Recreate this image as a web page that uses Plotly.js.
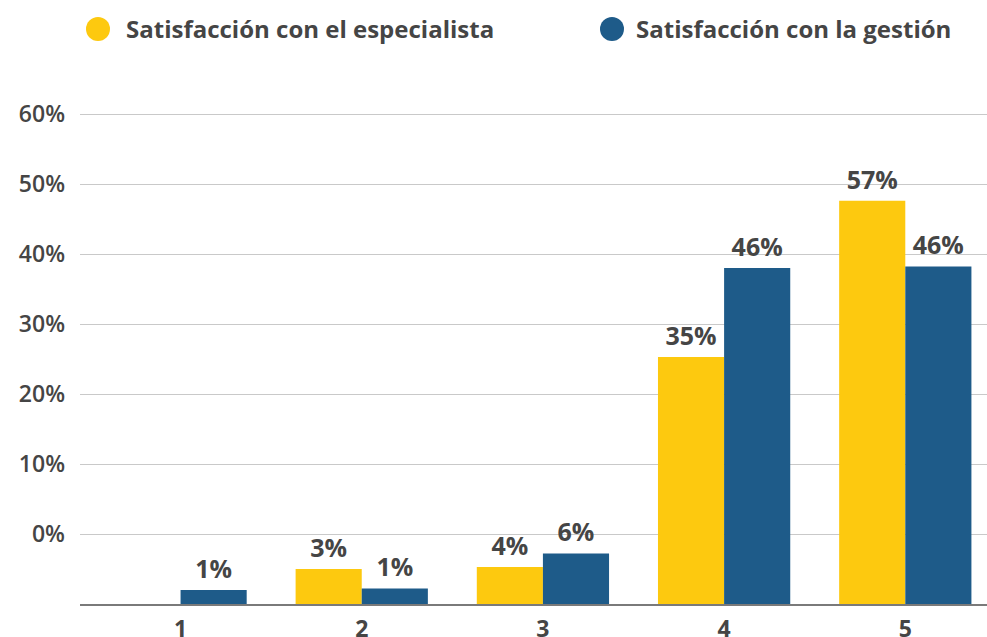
<!DOCTYPE html>
<html>
<head>
<meta charset="utf-8">
<script src="https://cdn.plot.ly/plotly-3.0.1.min.js"></script>
<style>html,body{margin:0;padding:0;background:#fff;}#chart{width:987px;height:637px;}</style>
</head>
<body>
<div id="chart"></div>
<script>
// Categories (rating 1–5)
var categories = [1, 2, 3, 4, 5];
// Bar heights
var especialistaValues = [0, 5.0, 5.3, 35.3, 57.6];
var gestionValues = [2.0, 2.2, 7.2, 48.0, 48.2];
// Value labels as printed above the bars
var especialistaLabels = ["", "3%", "4%", "35%", "57%"];
var gestionLabels = ["1%", "1%", "6%", "46%", "46%"];
// Y tick positions and their printed labels
var yTickVals = [10, 20, 30, 40, 50, 60, 70];
var yTickText = ["0%", "10%", "20%", "30%", "40%", "50%", "60%"];
var seriesNames = ["Satisfacción con el especialista", "Satisfacción con la gestión"];
var seriesColors = ["#FDC90F", "#1E5B89"];

var FONT = "Open Sans, sans-serif";
var TXT = "#454545";
var valueSets = [especialistaValues, gestionValues];
var labelSets = [especialistaLabels, gestionLabels];

var traces = [];
valueSets.forEach(function (vals, i) {
  traces.push({
    type: "bar", name: seriesNames[i], x: categories, y: vals,
    marker: {color: seriesColors[i]}, showlegend: false, hoverinfo: "skip",
    offsetgroup: "g" + i, alignmentgroup: "a"
  });
});
valueSets.forEach(function (vals, i) {
  traces.push({
    type: "scatter", mode: "markers+text", name: seriesNames[i] + " labels",
    x: categories, y: vals, text: labelSets[i], textposition: "top center",
    marker: {size: 8, opacity: 0, color: seriesColors[i]},
    textfont: {family: FONT, size: 25, color: TXT, weight: 700},
    showlegend: false, hoverinfo: "skip", cliponaxis: false,
    offsetgroup: "g" + i, alignmentgroup: "a"
  });
});

var L = 80, W = 907, T = 79, H = 525;
function px2x(p) { return (p - L) / W; }
function px2y(p) { return (T + H - p) / H; }

var legendY = px2y(29);
var shapes = [];
var annotations = [];
[[98, 124], [612, 634]].forEach(function (pos, i) {
  shapes.push({
    type: "circle", xref: "paper", yref: "paper",
    xsizemode: "pixel", ysizemode: "pixel",
    xanchor: px2x(pos[0]), yanchor: legendY,
    x0: -12, x1: 12, y0: -12, y1: 12,
    fillcolor: seriesColors[i], line: {width: 0}
  });
  annotations.push({
    xref: "paper", yref: "paper", x: px2x(pos[1]), y: legendY,
    xanchor: "left", yanchor: "middle", showarrow: false,
    text: seriesNames[i],
    font: {family: FONT, size: 24, color: TXT, weight: 700}
  });
});

var layout = {
  width: 987, height: 637,
  margin: {l: L, r: 0, t: T, b: 33, pad: 0},
  paper_bgcolor: "#ffffff", plot_bgcolor: "#ffffff",
  barmode: "group", bargap: 0.27, bargroupgap: 0,
  scattermode: "group", scattergap: 0.27,
  showlegend: false,
  xaxis: {
    range: [0.445, 5.451], tickvals: categories, ticktext: categories.map(String),
    showgrid: false, zeroline: false, showline: true, linecolor: "#7a7a7a", linewidth: 2,
    ticks: "", ticklabelstandoff: 3,
    tickfont: {family: FONT, size: 23, color: TXT, weight: 700}, fixedrange: true
  },
  yaxis: {
    range: [0, 75], tickvals: yTickVals, ticktext: yTickText,
    showgrid: true, gridcolor: "#c9c9c9", gridwidth: 1, zeroline: false, showline: false,
    ticks: "", ticklabelstandoff: 14,
    tickfont: {family: FONT, size: 23, color: TXT, weight: 600}, fixedrange: true
  },
  shapes: shapes,
  annotations: annotations
};

Plotly.newPlot("chart", traces, layout, {displayModeBar: false, staticPlot: true});
</script>
</body>
</html>
